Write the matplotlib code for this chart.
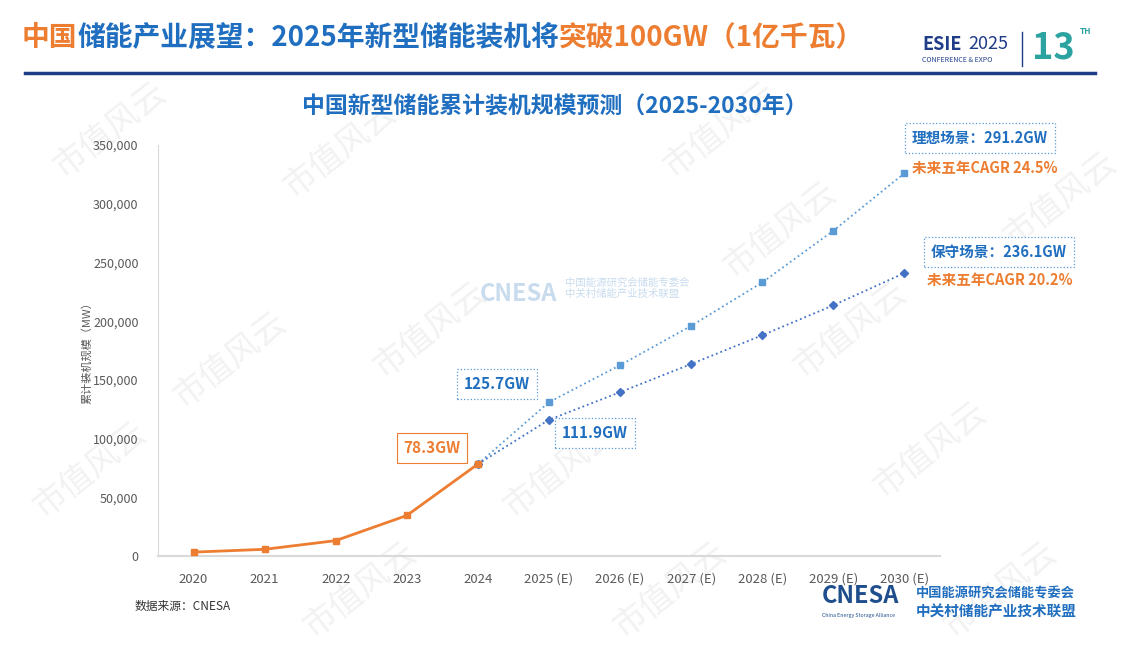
import matplotlib.pyplot as plt

plt.rcParams['font.family'] = ['Noto Sans CJK SC', 'DejaVu Sans']

# 数据 (MW)
anos = ['2020', '2021', '2022', '2023', '2024', '2025 (E)', '2026 (E)',
        '2027 (E)', '2028 (E)', '2029 (E)', '2030 (E)']
historico = [3300, 5700, 13100, 34500, 78300]
ideal = [78300, 131000, 162500, 196000, 233000, 277000, 326000]
conservador = [78300, 116000, 139500, 163500, 188000, 213500, 241000]

laranja = '#ED7D31'
azul = '#1F6EBF'
azul_claro = '#5B9BD5'
azul_escuro = '#4472C4'
cinza = '#595959'

W, H = 1123, 645


def px(x, y):
    return x / W, 1 - y / H


fig = plt.figure(figsize=(11.23, 6.45), dpi=100)

# watermarks
for (wx, wy) in [(110, 130), (230, 360), (340, 150), (430, 330), (560, 470),
                 (720, 130), (780, 230), (850, 330), (930, 450), (1060, 200),
                 (90, 470), (360, 590), (670, 590), (1000, 590)]:
    fig.text(*px(wx, wy), '市值风云', fontsize=24, color='#f2f2f2', rotation=38,
             ha='center', va='center', zorder=-5, fontweight='light')

# header: pieces placed one after another
partes = [('中国', laranja), ('储能产业展望：2025年新型储能装机将', azul),
          ('突破100GW（1亿千瓦）', laranja)]
fig.canvas.draw()
rend = fig.canvas.get_renderer()
xa = 22
for txt, cor in partes:
    t = fig.text(*px(xa, 38), txt, fontsize=20, fontweight='bold', color=cor, va='center')
    xa += t.get_window_extent(rend).width
fig.add_artist(plt.Line2D([25 / W, 1095 / W], [1 - 73 / H] * 2, color='#1F3C88', lw=2.5))

# ESIE logo
fig.text(*px(922, 44), 'ESIE', fontsize=13, fontweight='bold', color='#1F3C88', va='center')
fig.text(*px(968, 44), '2025', fontsize=13, color='#1F3C88', va='center')
fig.text(*px(922, 60), 'CONFERENCE & EXPO', fontsize=5, color='#1F3C88', va='center')
fig.add_artist(plt.Line2D([1022 / W] * 2, [1 - 32 / H, 1 - 66 / H], color='#1F3C88', lw=1))
fig.text(*px(1032, 48), '13', fontsize=26, fontweight='bold', color='#2BA3A0', va='center')
fig.text(*px(1080, 32), 'TH', fontsize=6, fontweight='bold', color='#2BA3A0', va='center')

# chart title
fig.text(*px(555, 107), '中国新型储能累计装机规模预测（2025-2030年）', fontsize=16.5,
         fontweight='bold', color=azul, ha='center', va='center')

ax = fig.add_axes([158 / W, 1 - 556 / H, (940 - 158) / W, (556 - 145) / H])
x_hist = list(range(len(historico)))
x_prev = list(range(4, len(anos)))

ax.plot(x_prev, ideal, ls=':', color=azul_claro, lw=1.3, marker='s', markersize=4, zorder=3)
ax.plot(x_prev, conservador, ls=':', color=azul_escuro, lw=1.3, marker='D', markersize=4, zorder=3)
ax.plot(x_hist, historico, color=laranja, lw=2, marker='s', markersize=5, zorder=4)

ax.set_xlim(-0.5, len(anos) - 0.5)
ax.set_ylim(0, 350000)
ax.set_xticks(range(len(anos)))
ax.set_xticklabels(anos, fontsize=9.5, color=cinza)
ax.set_yticks(range(0, 350001, 50000))
ax.set_yticklabels([f'{v:,}' for v in range(0, 350001, 50000)], fontsize=9, color=cinza)
ax.tick_params(length=0, pad=12)
ax.tick_params(axis='y', pad=14)
for s in ['top', 'right']:
    ax.spines[s].set_visible(False)
ax.spines['left'].set_color('#d9d9d9')
ax.spines['bottom'].set_color('#d9d9d9')
ax.spines['bottom'].set_linewidth(1.5)
ax.patch.set_alpha(0)

fig.text(*px(87, 350), '累计装机规模（MW）', fontsize=8, color=cinza, rotation=90,
         ha='center', va='center')

# labels
fig.text(*px(432, 448), '78.3GW', fontsize=11, fontweight='bold', color=laranja,
         ha='center', va='center',
         bbox=dict(boxstyle='square,pad=0.45', fc='white', ec=laranja, lw=0.8))
caixa = dict(boxstyle='square,pad=0.45', fc='white', ec=azul_claro, lw=0.9, ls=':')
fig.text(*px(497, 384), '125.7GW', fontsize=11, fontweight='bold', color=azul,
         ha='center', va='center', bbox=caixa)
fig.text(*px(595, 433), '111.9GW', fontsize=11, fontweight='bold', color=azul,
         ha='center', va='center', bbox=caixa)
fig.text(*px(980, 138), '理想场景：291.2GW', fontsize=10.5, fontweight='bold', color=azul,
         ha='center', va='center', bbox=caixa)
fig.text(*px(985, 168), '未来五年CAGR 24.5%', fontsize=10.5, fontweight='bold',
         color=laranja, ha='center', va='center')
fig.text(*px(999, 252), '保守场景：236.1GW', fontsize=10.5, fontweight='bold', color=azul,
         ha='center', va='center', bbox=caixa)
fig.text(*px(1000, 280), '未来五年CAGR 20.2%', fontsize=10.5, fontweight='bold',
         color=laranja, ha='center', va='center')

# centre watermark
fig.text(*px(518, 294), 'CNESA', fontsize=17, fontweight='bold', color='#c9dcee',
         ha='center', va='center')
fig.text(*px(565, 288), '中国能源研究会储能专委会\n中关村储能产业技术联盟', fontsize=7.5,
         color='#c9dcee', va='center', linespacing=1.1)

# source
fig.text(*px(135, 606), '数据来源：CNESA', fontsize=8.5, color='#333333', va='center')

# CNESA logo
fig.text(*px(822, 596), 'CNESA', fontsize=17, fontweight='bold', color='#1F4E8C',
         va='center')
fig.text(*px(822, 615), 'China Energy Storage Alliance', fontsize=3.8, color='#1F4E8C',
         va='center')
fig.text(*px(916, 593), '中国能源研究会储能专委会', fontsize=9.5, fontweight='bold',
         color='#1F6EBF', va='center')
fig.text(*px(916, 611), '中关村储能产业技术联盟', fontsize=10.5, fontweight='bold',
         color='#1F6EBF', va='center')

fig.savefig('out.png', dpi=100)
